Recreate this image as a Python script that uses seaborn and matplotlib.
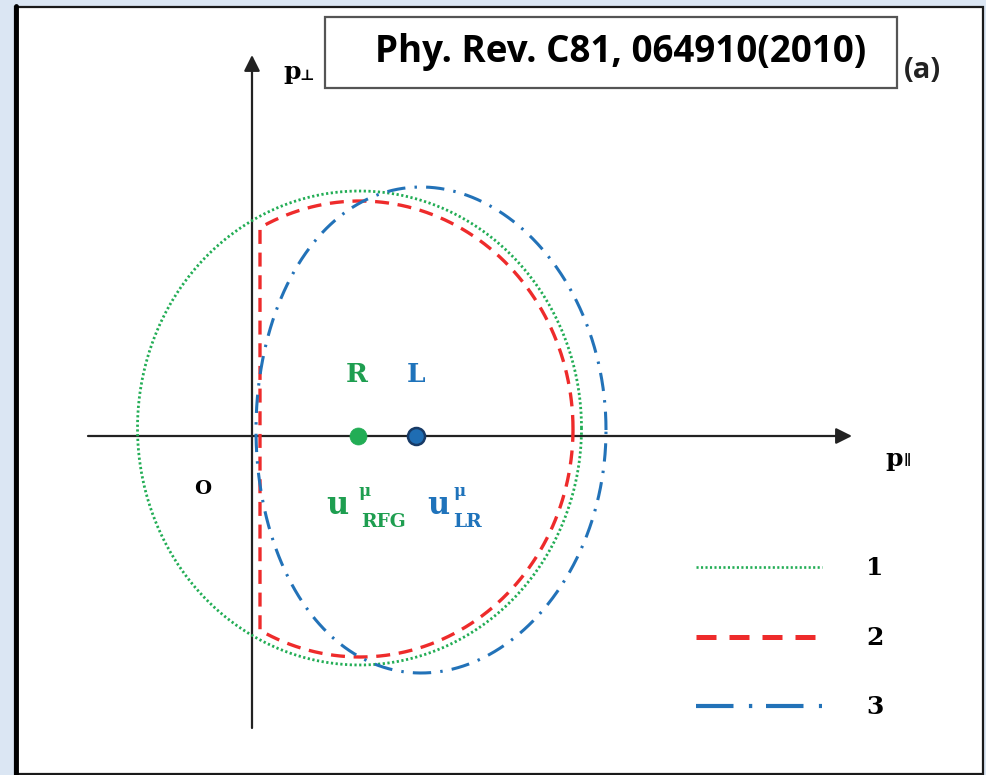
import numpy as np
import pandas as pd
import matplotlib
matplotlib.use("Agg")
import matplotlib.pyplot as plt
import seaborn as sns
from matplotlib.patches import Rectangle
from matplotlib.lines import Line2D

sns.set_theme(style="white")
plt.rcParams['font.family'] = ['DejaVu Serif', 'DejaVu Sans']

# ---------------- data (p_par, p_perp in arbitrary units) ----------------
curve_labels = ["1", "2", "3"]
center_x = [1.075, 1.08, 1.79]
center_y = [0.08, 0.07, 0.06]
radius_x = [2.22, 2.13, 1.75]
radius_y = [2.37, 2.28, 2.43]
egg_shift = [0.0, 0.0, -0.10]
left_cut = [None, 0.08, None]
point_names = ["R", "L"]
point_x = [1.06, 1.64]
point_y = [0.0, 0.0]

GREEN = "#22ad55"
GREEN_T = "#1e9e50"
RED = "#ee2b2b"
BLUE = "#2272b8"
BLUE_T = "#1f73bb"
curve_colors = [GREEN, RED, BLUE]
curve_styles = [(0, (0.8, 0.9)), (0, (4.2, 2.6)), (0, (6, 3, 0.8, 3))]
curve_lw = [2.0, 2.4, 2.2]

# build curve table
t = np.linspace(0, 2 * np.pi, 1441)
rows = []
for lab, cx, cy, rx, ry, e, cut in zip(curve_labels, center_x, center_y,
                                       radius_x, radius_y, egg_shift, left_cut):
    x = cx + rx * np.cos(t) + e * np.sin(t) ** 2
    y = cy + ry * np.sin(t)
    if cut is not None:
        x = np.maximum(x, cut)
    rows.append(pd.DataFrame({"x": x, "y": y, "curve": lab, "order": np.arange(len(t))}))
curves = pd.concat(rows, ignore_index=True)

# ---------------- figure ----------------
W, H = 987, 775
fig = plt.figure(figsize=(W / 100, H / 100), dpi=100)
fig.patch.set_facecolor("#dbe6f3")
ax = fig.add_axes([0, 0, 1, 1])
ax.set_facecolor("none")
ax.set_xlim(-2.52, 7.35)
ax.set_ylim(-3.39, 4.36)
ax.axis("off")

# white panel with frame
fig.add_artist(Rectangle((15 / W, 1 - 774 / H), (983 - 15) / W, (774 - 7) / H,
                         transform=fig.transFigure, facecolor="white",
                         edgecolor="#1a1a1a", lw=1.6, zorder=-5))
fig.add_artist(Line2D([16 / W, 16 / W], [1 - 774 / H, 1 - 6 / H],
                      transform=fig.transFigure, color="black", lw=3.5, zorder=-4))

# coordinate axes with arrows
ax.annotate("", xy=(6.00, 0), xytext=(-1.64, 0),
            arrowprops=dict(arrowstyle="-|>", lw=1.6, color="#222222",
                            mutation_scale=24, shrinkA=0, shrinkB=0), zorder=1)
ax.annotate("", xy=(0, 3.81), xytext=(0, -2.92),
            arrowprops=dict(arrowstyle="-|>", lw=1.6, color="#222222",
                            mutation_scale=24, shrinkA=0, shrinkB=0), zorder=1)

# curves
for lab, col, ls, lw in zip(curve_labels, curve_colors, curve_styles, curve_lw):
    sub = curves[curves["curve"] == lab]
    sns.lineplot(data=sub, x="x", y="y", sort=False, estimator=None,
                 color=col, linestyle=ls, lw=lw, ax=ax, legend=False, zorder=3)

# centre points
sns.scatterplot(x=[point_x[0]], y=[point_y[0]], color=GREEN, s=150,
                edgecolor=GREEN, linewidth=0.5, ax=ax, legend=False, zorder=5)
sns.scatterplot(x=[point_x[1]], y=[point_y[1]], color="#1f6db3", s=150,
                edgecolor="#173a66", linewidth=1.8, ax=ax, legend=False, zorder=5)

# labels
serif = ['DejaVu Serif', 'DejaVu Sans']
ax.text(point_x[0] - 0.01, 0.61, point_names[0], color=GREEN_T, fontsize=19,
        fontweight="bold", family=serif, ha="center", va="center")
ax.text(point_x[1], 0.61, point_names[1], color=BLUE_T, fontsize=19,
        fontweight="bold", family=serif, ha="center", va="center")
ax.text(-0.49, -0.53, "O", color="black", fontsize=14, fontweight="bold",
        family=serif, ha="center", va="center")

# u^mu labels
ax.text(0.85, -0.70, "u", color=GREEN_T, fontsize=22, fontweight="bold",
        family=serif, ha="center", va="center")
ax.text(1.13, -0.56, "μ", color=GREEN_T, fontsize=12, fontweight="bold",
        family=serif, ha="center", va="center")
ax.text(1.31, -0.86, "RFG", color=GREEN_T, fontsize=13.5, fontweight="bold",
        family=serif, ha="center", va="center")
ax.text(1.86, -0.70, "u", color=BLUE_T, fontsize=22, fontweight="bold",
        family=serif, ha="center", va="center")
ax.text(2.08, -0.56, "μ", color=BLUE_T, fontsize=12, fontweight="bold",
        family=serif, ha="center", va="center")
ax.text(2.15, -0.86, "LR", color=BLUE_T, fontsize=13.5, fontweight="bold",
        family=serif, ha="center", va="center")

# axis labels
ax.text(0.40, 3.64, "p", color="black", fontsize=18, fontweight="bold",
        family=serif, ha="center", va="center")
ax.text(0.55, 3.60, "⊥", color="black", fontsize=11, fontweight="bold",
        family=serif, ha="center", va="center")
ax.text(6.42, -0.23, "p", color="black", fontsize=18, fontweight="bold",
        family=serif, ha="center", va="center")
ax.text(6.55, -0.25, "∥", color="black", fontsize=10, fontweight="bold",
        family=serif, ha="center", va="center")

# reference box
ax.add_patch(Rectangle((0.73, 3.48), 6.45 - 0.73, 4.19 - 3.48, facecolor="white",
                       edgecolor="#555555", lw=1.6, zorder=6))
ax.text(3.69, 3.84, "Phy. Rev. C81, 064910(2010)", color="black", fontsize=26.5,
        fontweight="bold", family=["Open Sans", "DejaVu Sans"], ha="center",
        va="center", zorder=7)
ax.text(6.70, 3.66, "(a)", color="#222222", fontsize=21, fontweight="bold",
        family=["Open Sans", "DejaVu Sans"], ha="center", va="center")

# legend
leg_y = [-1.31, -2.01, -2.70]
leg_styles = [(0, (0.8, 0.9)), (0, (4.0, 2.6)), (0, (9, 3.7, 0.8, 3.3))]
leg_lw = [1.9, 3.6, 3.0]
for lab, col, ls, lw, yy in zip(curve_labels, curve_colors, leg_styles, leg_lw, leg_y):
    ax.plot([4.44, 5.70], [yy, yy], color=col, linestyle=ls, lw=lw,
            solid_capstyle="butt", dash_capstyle="butt")
    ax.text(6.23, yy - 0.01, lab, color="black", fontsize=18, fontweight="bold",
            family=serif, ha="center", va="center")

fig.savefig("out.png", dpi=100, facecolor=fig.get_facecolor())
